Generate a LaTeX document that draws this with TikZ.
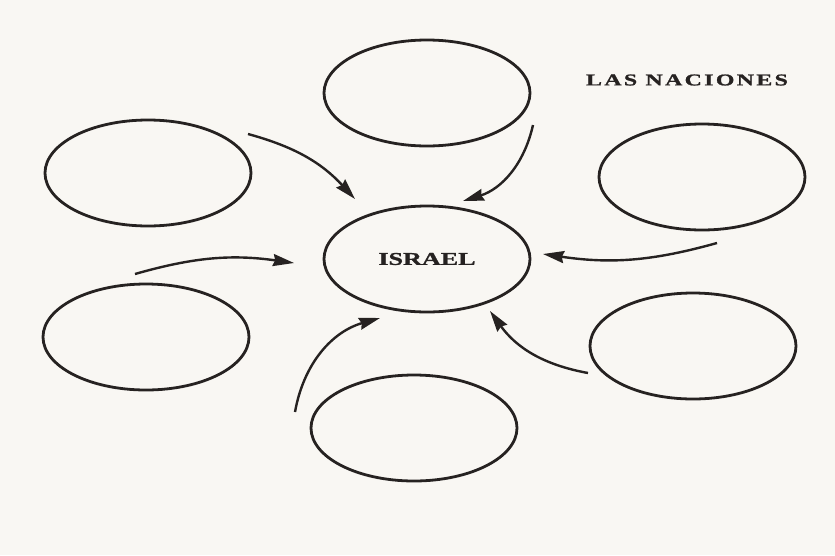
\documentclass[tikz,border=0pt]{standalone}
\usepackage{fontspec}
\newfontfamily\centrefont[FakeStretch=1.45,FakeBold=1.2]{Liberation Serif}
\newfontfamily\titlefont[FakeStretch=1.45,FakeBold=1.2,LetterSpace=14]{Liberation Serif}
\usetikzlibrary{shapes.geometric,arrows.meta,positioning}
\definecolor{paper}{RGB}{249,247,243}
\definecolor{ink}{RGB}{38,34,33}
\tikzstyle{nation} = [draw=ink, ellipse, line width=2.8pt, minimum width=206pt, minimum height=106pt, inner sep=0pt]
\tikzstyle{centre} = [nation, font=\centrefont\bfseries\fontsize{18}{20}\selectfont, text=ink]
\tikzstyle{arrow} = [draw=ink, line width=2.4pt, -{Stealth[length=21pt,width=12pt,inset=2pt]}]
\newcommand{\nation}[1]{node (n#1) [nation] {}}
\begin{document}
\begin{tikzpicture}[x=1pt,y=-1pt]
\fill[paper] (0,0) rectangle (835,555);
\useasboundingbox (0,0) rectangle (835,555);
\path (427,259) node (c1) [centre] {ISRAEL};
\path (c1)+(-279,-86) \nation{1};
\path (c1)+(0,-166) \nation{2};
\path (c1)+(275,-82) \nation{3};
\path (c1)+(-281,78) \nation{4};
\path (c1)+(266,87) \nation{5};
\path (c1)+(-13,169) \nation{6};
\path (687,80) node (t1) [font=\titlefont\bfseries\fontsize{16.5}{18}\selectfont, text=ink] {LAS NACIONES};

% start and end points of the arrows
\coordinate (s1) at (248,134);  \coordinate (e1) at (355,199);
\coordinate (s2) at (533,125);  \coordinate (e2) at (463,201);
\coordinate (s3) at (717,243);  \coordinate (e3) at (543,254);
\coordinate (s4) at (135,274);  \coordinate (e4) at (294,263);
\coordinate (s5) at (295,412);  \coordinate (e5) at (380,318);
\coordinate (s6) at (588,373);  \coordinate (e6) at (490,311);

\path [arrow] (s1) to[bend left=16] (e1);
\path [arrow] (s2) to[bend left=30] (e2);
\path [arrow] (s3) to[bend left=12] (e3);
\path [arrow] (s4) to[bend left=12] (e4);
\path [arrow] (s5) to[bend left=32] (e5);
\path [arrow] (s6) to[bend left=22] (e6);
\end{tikzpicture}
\end{document}
